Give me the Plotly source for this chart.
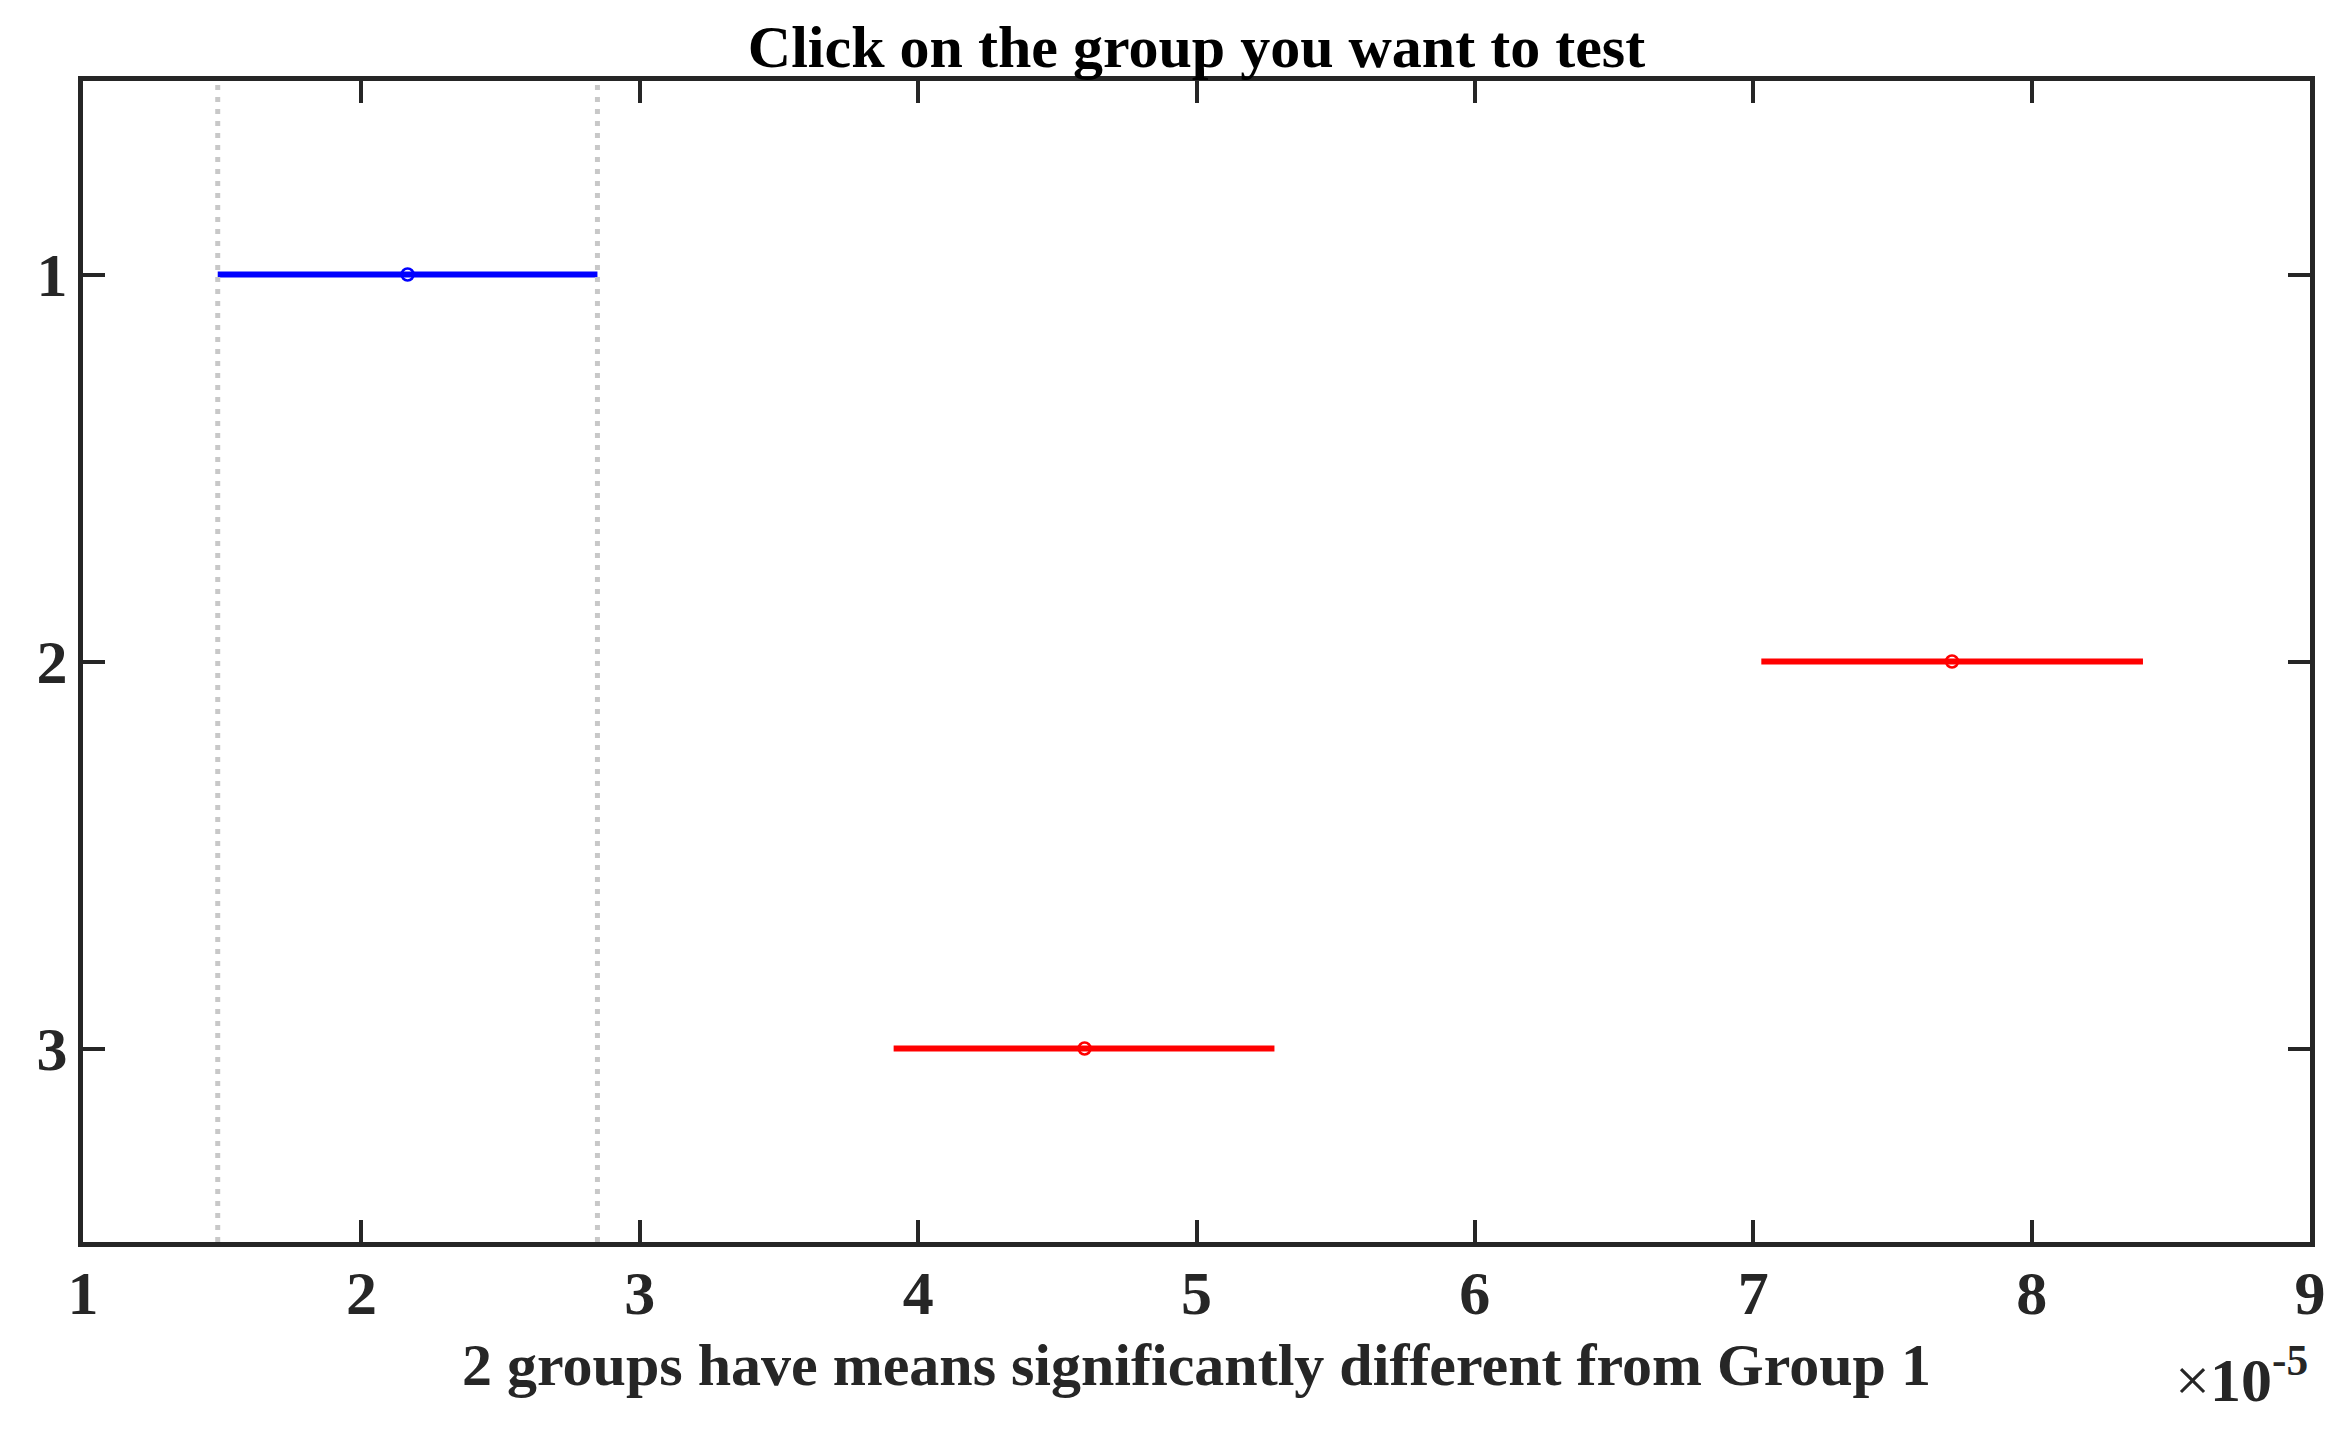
import plotly.graph_objects as go

# ---- data (values in original units, axis shown x10^-5) ----
groups = [1, 2, 3]
means = [2.166e-5, 7.714e-5, 4.598e-5]
lower = [1.484e-5, 7.029e-5, 3.912e-5]
upper = [2.848e-5, 8.400e-5, 5.280e-5]
colors = ["#0000FF", "#FF0000", "#FF0000"]
x_tickvals = [1e-5, 2e-5, 3e-5, 4e-5, 5e-5, 6e-5, 7e-5, 8e-5, 9e-5]
x_ticktext = ["1", "2", "3", "4", "5", "6", "7", "8", "9"]
y_tickvals = [1, 2, 3]
y_ticktext = ["1", "2", "3"]
ref_group = 0  # Group 1 is the tested group

title_text = "Click on the group you want to test"
xlabel_text = "2 groups have means significantly different from Group 1"

FONT = "Liberation Serif, Times New Roman, serif"
AXC = "#262626"
FS_TICK = 62
FS_LAB = 60

fig = go.Figure()

for g, m, lo, hi, c in zip(groups, means, lower, upper, colors):
    fig.add_trace(go.Scatter(
        x=[lo, hi], y=[g, g], mode="lines",
        line=dict(color=c, width=6), showlegend=False, hoverinfo="skip"))
    fig.add_trace(go.Scatter(
        x=[m], y=[g], mode="markers",
        marker=dict(symbol="circle-open", size=12, color=c, line=dict(width=2.5, color=c)),
        showlegend=False))

# reference-interval dotted lines for the tested group
for xv in (lower[ref_group], upper[ref_group]):
    fig.add_shape(type="line", xref="x", yref="paper", x0=xv, x1=xv, y0=0, y1=1,
                  line=dict(color="#c8c8c8", width=5, dash="5px,7px"), layer="above")

fig.update_layout(
    width=2344, height=1437,
    margin=dict(l=75, r=42, t=73, b=203),
    paper_bgcolor="white", plot_bgcolor="white",
    font=dict(family=FONT, size=FS_LAB, color=AXC, weight="bold"),
    title=dict(text=title_text, x=0.5, xref="paper", xanchor="center",
               y=1, yref="paper", yanchor="bottom", pad=dict(b=14),
               font=dict(family=FONT, size=FS_LAB, color="#000000", weight="bold")),
    showlegend=False,
)

fig.update_xaxes(
    range=[1e-5, 9e-5], tickvals=x_tickvals, ticktext=x_ticktext,
    showgrid=False, zeroline=False,
    showline=True, linecolor=AXC, linewidth=5, mirror="ticks",
    ticks="inside", ticklen=22, tickwidth=4, tickcolor=AXC,
    ticklabelstandoff=-7,
    tickfont=dict(family=FONT, size=FS_TICK, color=AXC, weight="bold"),
    title=dict(text=xlabel_text, standoff=18,
               font=dict(family=FONT, size=FS_LAB, color=AXC, weight="bold")),
)
fig.update_yaxes(
    range=[3.5, 0.5], tickvals=y_tickvals, ticktext=y_ticktext,
    showgrid=False, zeroline=False,
    showline=True, linecolor=AXC, linewidth=5, mirror="ticks",
    ticks="inside", ticklen=22, tickwidth=4, tickcolor=AXC,
    ticklabelstandoff=-2,
    tickfont=dict(family=FONT, size=FS_TICK, color=AXC, weight="bold"),
)

# exponent label
fig.add_annotation(
    text="×<b>10<sup>-5</sup></b>", xref="paper", yref="paper", x=1.0, y=0,
    xanchor="right", yanchor="top", yshift=-92, showarrow=False,
    font=dict(family=FONT, size=62, color=AXC, weight="normal"),
)

fig.write_html("out.html")
